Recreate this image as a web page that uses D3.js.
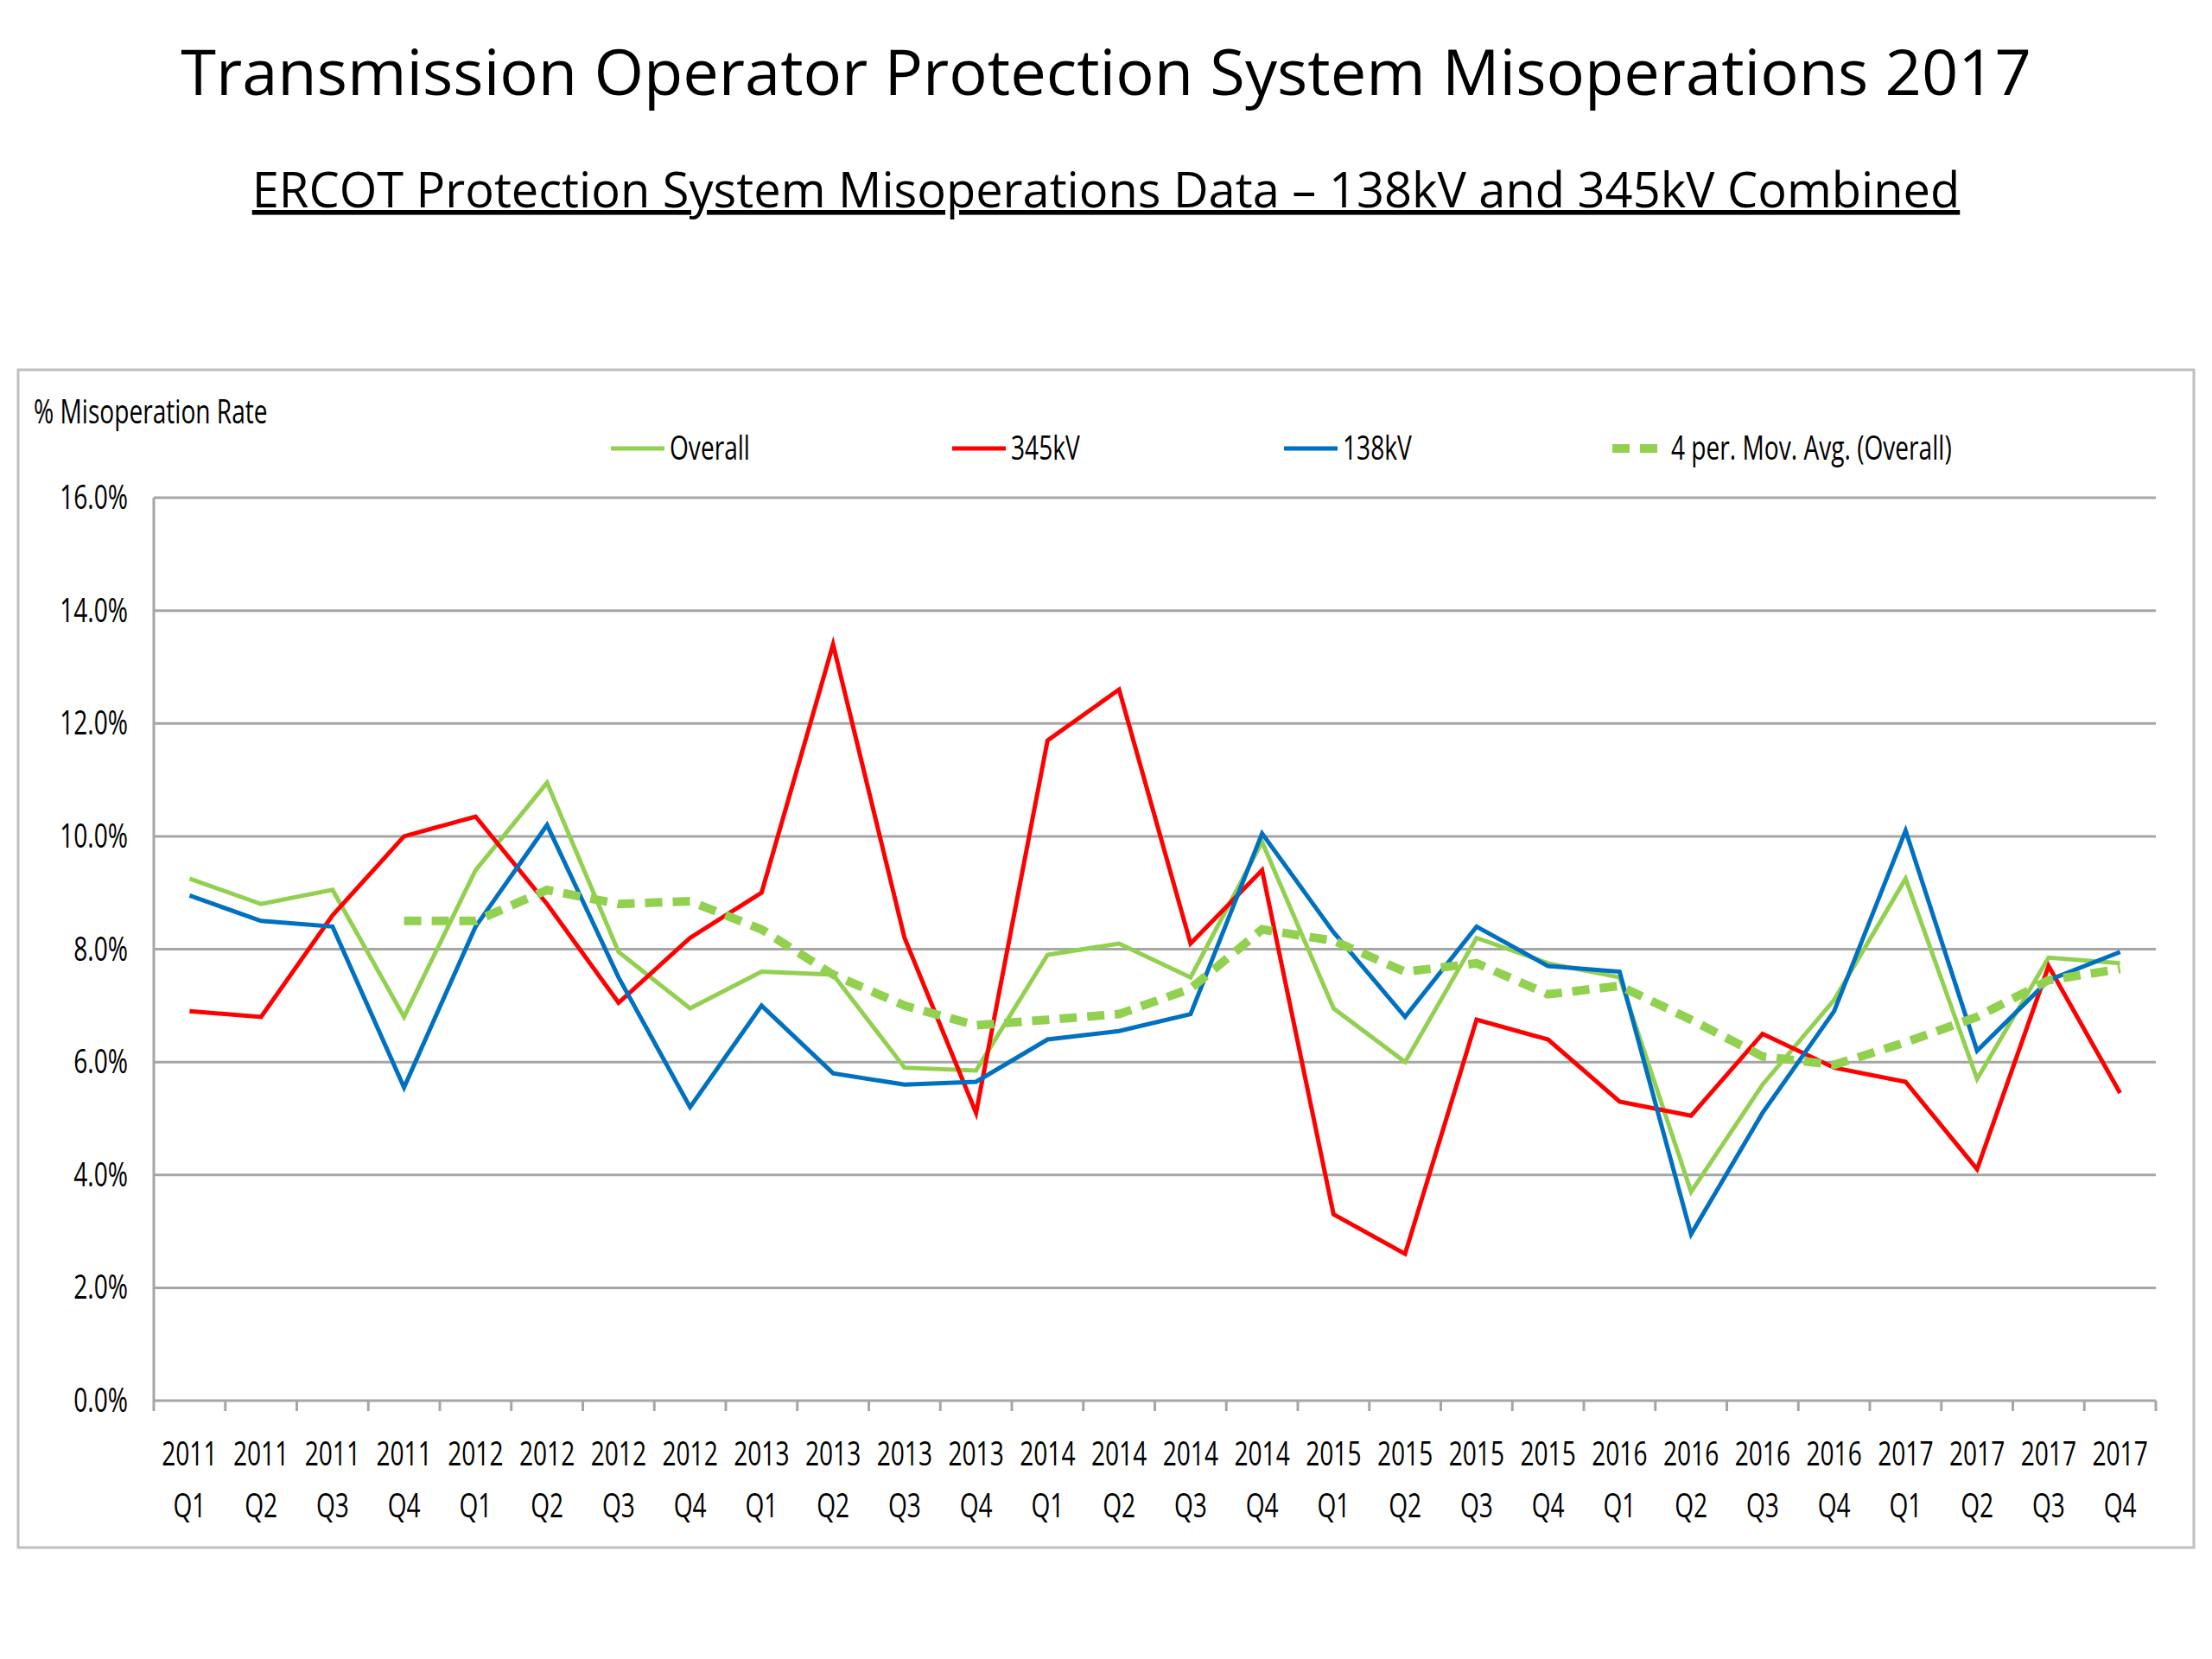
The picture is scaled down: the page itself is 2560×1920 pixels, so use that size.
<!DOCTYPE html>
<html><head><meta charset="utf-8">
<script src="https://cdn.jsdelivr.net/npm/d3@7"></script>
<style>body{margin:0;background:#fff}</style>
</head><body>
<svg id="c" width="2560" height="1920"></svg>
<script>
var categories = ['2011 Q1','2011 Q2','2011 Q3','2011 Q4','2012 Q1','2012 Q2','2012 Q3','2012 Q4',
  '2013 Q1','2013 Q2','2013 Q3','2013 Q4','2014 Q1','2014 Q2','2014 Q3','2014 Q4',
  '2015 Q1','2015 Q2','2015 Q3','2015 Q4','2016 Q1','2016 Q2','2016 Q3','2016 Q4',
  '2017 Q1','2017 Q2','2017 Q3','2017 Q4'];
var overall = [9.25,8.8,9.05,6.8,9.4,10.95,7.95,6.95,7.6,7.55,5.9,5.85,7.9,8.1,7.5,9.9,6.95,6.0,8.2,7.75,7.5,3.7,5.6,7.1,9.25,5.7,7.85,7.75];
var kv345 = [6.9,6.8,8.6,10.0,10.35,8.8,7.05,8.2,9.0,13.4,8.2,5.1,11.7,12.6,8.1,9.4,3.3,2.6,6.75,6.4,5.3,5.05,6.5,5.9,5.65,4.1,7.7,5.45];
var kv138 = [8.95,8.5,8.4,5.55,8.4,10.2,7.5,5.2,7.0,5.8,5.6,5.65,6.4,6.55,6.85,10.05,8.3,6.8,8.4,7.7,7.6,2.95,5.1,6.9,10.1,6.2,7.45,7.95];
// moving average, starting at 2011 Q4
var movAvg = [null,null,null,8.5,8.5,9.05,8.8,8.85,8.35,7.55,7.0,6.65,6.75,6.85,7.3,8.35,8.15,7.6,7.75,7.2,7.35,6.75,6.1,5.95,6.35,6.8,7.45,7.65];
var yTicks = [0,2,4,6,8,10,12,14,16];

var svg = d3.select('#c');
var font = "'Open Sans',sans-serif";
var SX = 0.74;

// condensed text helper
function ctext(parent, x, y, str, anchor) {
  return parent.append('text').attr('transform','translate(' + x + ',' + y + ') scale(' + SX + ',1)')
    .attr('text-anchor', anchor || 'start').attr('font-family',font).attr('font-size',38).text(str);
}

svg.append('text').attr('x',1280).attr('y',110).attr('text-anchor','middle')
  .attr('font-family',"'Open Sans',sans-serif").attr('font-size',74).text('Transmission Operator Protection System Misoperations 2017');
svg.append('text').attr('x',1280).attr('y',240).attr('text-anchor','middle')
  .attr('font-family',"'Open Sans',sans-serif").attr('font-size',56).attr('text-decoration','underline')
  .text('ERCOT Protection System Misoperations Data – 138kV and 345kV Combined');

svg.append('rect').attr('x',21).attr('y',428).attr('width',2518).attr('height',1363)
  .attr('fill','#fff').attr('stroke','#bfbfbf').attr('stroke-width',3);

var L = 178, R = 2495, T = 576, B = 1621;
var x = d3.scaleBand().domain(categories).range([L, R]);
var y = d3.scaleLinear().domain([0,16]).range([B, T]);

var g = svg.append('g');
g.selectAll('line.grid').data(yTicks).join('line').attr('class','grid')
  .attr('x1',L).attr('x2',R).attr('y1',function(d){return y(d);}).attr('y2',function(d){return y(d);})
  .attr('stroke','#a6a6a6').attr('stroke-width',3);
g.append('line').attr('x1',L).attr('x2',L).attr('y1',T).attr('y2',B).attr('stroke','#a6a6a6').attr('stroke-width',3);
yTicks.forEach(function(d){ ctext(g, L-30, y(d)+13, d.toFixed(1)+'%', 'end'); });
var bounds = categories.map(function(c){return x(c);}).concat([R]);
g.selectAll('line.xt').data(bounds).join('line').attr('class','xt')
  .attr('x1',function(d){return d;}).attr('x2',function(d){return d;}).attr('y1',B).attr('y2',B+12)
  .attr('stroke','#a6a6a6').attr('stroke-width',3);
categories.forEach(function(c){
  var cx = x(c) + x.bandwidth()/2;
  ctext(g, cx, 1696, c.split(' ')[0], 'middle');
  ctext(g, cx, 1756, c.split(' ')[1], 'middle');
});

ctext(svg, 39, 490, '% Misoperation Rate');

function line(vals){
  return d3.line().defined(function(d){return d!=null;})
    .x(function(d,i){return x(categories[i])+x.bandwidth()/2;}).y(function(d){return y(d);})(vals);
}
var series = [
  {v:overall,c:'#92d050',w:5,dash:null},
  {v:kv345,c:'#ff0000',w:5,dash:null},
  {v:kv138,c:'#0070c0',w:5,dash:null},
  {v:movAvg,c:'#92d050',w:10,dash:'20,12'}
];
series.forEach(function(s){
  svg.append('path').attr('d',line(s.v)).attr('fill','none').attr('stroke',s.c)
    .attr('stroke-width',s.w).attr('stroke-dasharray',s.dash);
});
var legend = [
  {t:'Overall',c:'#92d050',x:707,w:5,dash:null},
  {t:'345kV',c:'#ff0000',x:1102,w:5,dash:null},
  {t:'138kV',c:'#0070c0',x:1486,w:5,dash:null},
  {t:'4 per. Mov. Avg. (Overall)',c:'#92d050',x:1866,w:10,dash:'20,12'}
];
legend.forEach(function(l){
  svg.append('line').attr('x1',l.x).attr('x2',l.x+62).attr('y1',519).attr('y2',519)
    .attr('stroke',l.c).attr('stroke-width',l.w).attr('stroke-dasharray',l.dash);
  ctext(svg, l.x+68, 532, l.t);
});
</script>
</body></html>
